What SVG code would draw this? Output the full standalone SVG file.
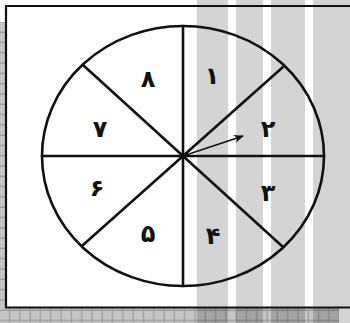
<svg xmlns="http://www.w3.org/2000/svg" width="350" height="323" viewBox="0 0 350 323">
  <defs>
    <pattern id="grid" x="0" y="2" width="10.3" height="10.3" patternUnits="userSpaceOnUse">
      <rect width="10.3" height="10.3" fill="#c6c6c6"/>
      <path d="M9.6 0V10.3M0 9.6H10.3" stroke="#9c9c9c" stroke-width="1.2"/>
    </pattern>
    <marker id="arr" viewBox="0 0 10 10" refX="9" refY="5" markerWidth="10" markerHeight="10" markerUnits="userSpaceOnUse" orient="auto">
      <path d="M0 1L10 5L0 9L3 5Z" fill="#111"/>
    </marker>
    <style>
      .ln{stroke:#111;stroke-width:2.6;fill:none;stroke-linecap:round}
      .num{font-family:"DejaVu Sans",sans-serif;font-size:24px;font-weight:bold;fill:#111;text-anchor:middle}
    </style>
  </defs>
  <rect width="350" height="323" fill="#ffffff"/>
  <rect x="0" y="22" width="6" height="301" fill="url(#grid)"/>
  <rect x="0" y="308" width="339" height="15" fill="url(#grid)"/>
  <rect x="6" y="6" width="344" height="302" fill="#ffffff"/>
  <g id="stripes" fill="#000" fill-opacity="0.17">
    <rect x="197" y="0" width="31" height="323"/>
    <rect x="236" y="0" width="27" height="323"/>
    <rect x="271" y="0" width="34" height="323"/>
    <rect x="313" y="0" width="37" height="323"/>
  </g>
  <g id="frame" stroke="#111" stroke-width="2.2" fill="none">
    <path d="M6 308V6H350"/>
    <path d="M5 307.5H350"/>
  </g>
  <g id="wheel">
    <ellipse class="ln" cx="183" cy="156" rx="141" ry="130"/>
  </g>
  <g id="connectors">
    <line class="ln" x1="183" y1="26" x2="183" y2="286"/>
    <line class="ln" x1="42" y1="156" x2="324" y2="156"/>
    <line class="ln" x1="83" y1="65" x2="283" y2="247"/>
    <line class="ln" x1="283" y1="67" x2="83" y2="245"/>
    <line stroke="#111" stroke-width="1.6" x1="183" y1="156" x2="243" y2="136" marker-end="url(#arr)"/>
    <circle cx="183" cy="156" r="3" fill="#111"/>
  </g>
  <g id="n1"><text class="num" x="212" y="84">۱</text></g>
  <g id="n2"><text class="num" x="268" y="137">۲</text></g>
  <g id="n3"><text class="num" x="268" y="201">۳</text></g>
  <g id="n4"><text class="num" x="213" y="244">۴</text></g>
  <g id="n5"><text class="num" x="148" y="242">۵</text></g>
  <g id="n6"><text class="num" x="97" y="196">۶</text></g>
  <g id="n7"><text class="num" x="100" y="137">۷</text></g>
  <g id="n8"><text class="num" x="148" y="87">۸</text></g>
</svg>
